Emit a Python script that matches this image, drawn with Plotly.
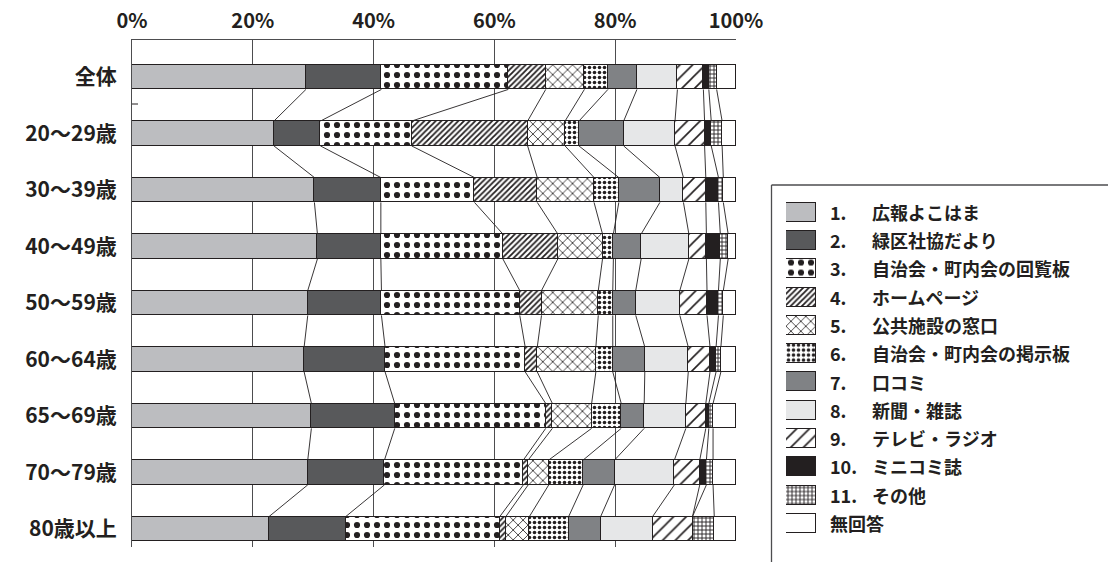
import plotly.graph_objects as go
import numpy as np

W, H = 1108, 562

categories = ["全体", "20～29歳", "30～39歳", "40～49歳", "50～59歳",
              "60～64歳", "65～69歳", "70～79歳", "80歳以上"]

koho_yokohama = [28.8, 23.5, 30.2, 30.7, 29.1, 28.5, 29.7, 29.1, 22.7]
shakyo_dayori = [12.5, 7.7, 11.0, 10.5, 12.2, 13.4, 13.8, 12.7, 12.7]
kairanban = [21.0, 15.1, 15.5, 20.2, 22.9, 23.2, 25.0, 23.0, 25.5]
homepage = [6.2, 19.2, 10.4, 9.1, 3.6, 2.0, 1.1, 0.8, 1.0]
madoguchi = [6.4, 6.2, 9.4, 7.4, 9.4, 9.7, 6.5, 3.4, 3.9]
keijiban = [3.9, 2.3, 4.1, 1.8, 2.4, 2.8, 4.9, 5.7, 6.5]
kuchikomi = [4.8, 7.4, 6.8, 4.6, 3.8, 5.3, 3.8, 5.2, 5.3]
shinbun = [6.7, 8.5, 3.9, 7.9, 7.3, 7.2, 6.9, 9.9, 8.6]
tv_radio = [4.3, 4.9, 3.7, 2.9, 4.5, 3.6, 3.3, 4.2, 6.6]
minikomi = [0.9, 1.1, 2.1, 2.3, 1.9, 1.0, 0.5, 1.1, 0.0]
sonota = [1.3, 1.8, 0.8, 1.3, 0.8, 0.8, 0.7, 1.1, 3.6]
mukaitou = [3.2, 2.3, 2.1, 1.3, 2.1, 2.5, 3.8, 3.8, 3.6]

series_nums = ["1.", "2.", "3.", "4.", "5.", "6.", "7.", "8.", "9.", "10.", "11.", ""]
series_names = ["広報よこはま", "緑区社協だより", "自治会・町内会の回覧板", "ホームページ",
                "公共施設の窓口", "自治会・町内会の掲示板", "口コミ", "新聞・雑誌",
                "テレビ・ラジオ", "ミニコミ誌", "その他", "無回答"]
series_values = [koho_yokohama, shakyo_dayori, kairanban, homepage, madoguchi,
                 keijiban, kuchikomi, shinbun, tv_radio, minikomi, sonota, mukaitou]

tick_vals = [0, 20, 40, 60, 80, 100]
tick_text = ["0%", "20%", "40%", "60%", "80%", "100%"]

INK = "#231f20"


def pattern(shape, size, solidity):
    return dict(shape=shape, size=size, solidity=solidity, fgcolor=INK,
                bgcolor="white", fgopacity=1, fillmode="replace")


# fill style per series: (base colour, pattern or None)
styles = [
    ("#bcbdc0", None),
    ("#58595b", None),
    ("white", pattern(".", 10, 0.3)),
    ("white", pattern("/", 4, 0.45)),
    ("white", pattern("x", 7, 0.22)),
    ("white", pattern(".", 5, 0.4)),
    ("#808285", None),
    ("#e6e7e8", None),
    ("white", pattern("/", 9, 0.18)),
    (INK, None),
    ("white", pattern("+", 4, 0.4)),
    ("white", None),
]


def fx(px):
    return px / W


def fy(py):
    return (H - py) / H


bar_w = 0.44
ypos = np.arange(len(categories))

fig = go.Figure()

# stacked horizontal bars
for vals, (col, pat) in zip(series_values, styles):
    marker = dict(color=col, line=dict(color=INK, width=1))
    if pat:
        marker["pattern"] = pat
    fig.add_trace(go.Bar(x=vals, y=ypos, orientation="h", width=bar_w,
                         marker=marker, showlegend=False, hoverinfo="skip",
                         xaxis="x", yaxis="y"))

# connector lines between segment boundaries of adjacent bars
cum = np.cumsum(np.array(series_values), axis=0)  # shape (12, 9)
lx, ly = [], []
for k in range(len(series_values) - 1):
    for i in range(len(categories) - 1):
        lx += [cum[k, i], cum[k, i + 1], None]
        ly += [ypos[i] + bar_w / 2, ypos[i + 1] - bar_w / 2, None]
fig.add_trace(go.Scatter(x=lx, y=ly, mode="lines",
                         line=dict(color=INK, width=0.9),
                         showlegend=False, hoverinfo="skip",
                         xaxis="x", yaxis="y"))

# legend swatches drawn on their own small axes
leg_pos = np.arange(len(series_names))
for j, (col, pat) in enumerate(styles):
    marker = dict(color=col, line=dict(color=INK, width=1))
    if pat:
        marker["pattern"] = pat
    fig.add_trace(go.Bar(x=[1], y=[leg_pos[j]], orientation="h", width=0.67,
                         marker=marker, showlegend=False, hoverinfo="skip",
                         xaxis="x2", yaxis="y2"))

row0, row_step = 211.7, 28.3
annotations = []
for j in range(len(series_names)):
    py = row0 + row_step * j
    if series_nums[j]:
        annotations.append(dict(x=fx(828), y=fy(py), xref="paper", yref="paper",
                                 text=series_nums[j], showarrow=False,
                                 xanchor="left", yanchor="middle",
                                 font=dict(size=18, color=INK, weight="bold")))
        lx0 = 870
    else:
        lx0 = 828
    annotations.append(dict(x=fx(lx0), y=fy(py), xref="paper", yref="paper",
                             text=series_names[j], showarrow=False,
                             xanchor="left", yanchor="middle",
                             font=dict(size=18, color=INK, weight="bold")))

shapes = [
    # legend frame
    dict(type="line", xref="paper", yref="paper", x0=fx(771.5), x1=fx(1108),
         y0=fy(185), y1=fy(185), line=dict(color="#4d4d4f", width=1.3)),
    dict(type="line", xref="paper", yref="paper", x0=fx(771.5), x1=fx(771.5),
         y0=fy(185), y1=fy(562), line=dict(color="#4d4d4f", width=1.3)),
    # short tick on the category axis
    dict(type="line", xref="paper", yref="paper", x0=fx(132), x1=fx(138),
         y0=fy(104), y1=fy(104), line=dict(color=INK, width=1)),
]

top_y = -0.655
bot_y = 8.32

fig.update_layout(
    width=W, height=H,
    margin=dict(l=0, r=0, t=0, b=0, autoexpand=False),
    paper_bgcolor="white", plot_bgcolor="white",
    barmode="stack", bargap=0,
    font=dict(family="Noto Sans CJK JP", color=INK),
    xaxis=dict(domain=[fx(132), fx(736)], range=[0, 100], side="top",
               tickvals=tick_vals, ticktext=tick_text, ticks="",
               ticklabelstandoff=3, automargin=False,
               tickfont=dict(size=20, color=INK, weight="bold"),
               showgrid=True, gridcolor="#4d4d4f", gridwidth=1,
               showline=True, linecolor="#4d4d4f", linewidth=1,
               zeroline=False, fixedrange=True),
    yaxis=dict(domain=[fy(547), fy(40)], range=[bot_y, top_y],
               tickvals=list(ypos), ticktext=categories, ticks="",
               ticklabelstandoff=10, automargin=False,
               tickfont=dict(size=21, color=INK, weight="bold"),
               showgrid=False, showline=True, linecolor="#4d4d4f", linewidth=1,
               zeroline=False, fixedrange=True),
    xaxis2=dict(domain=[fx(786), fx(816)], range=[0, 1], visible=False,
                anchor="y2", fixedrange=True, automargin=False),
    yaxis2=dict(domain=[fy(row0 + row_step * 11.5), fy(row0 - row_step * 0.5)],
                range=[11.5, -0.5], visible=False, anchor="x2", fixedrange=True,
                automargin=False),
    annotations=annotations,
    shapes=shapes,
)

fig.write_html("out.html")
